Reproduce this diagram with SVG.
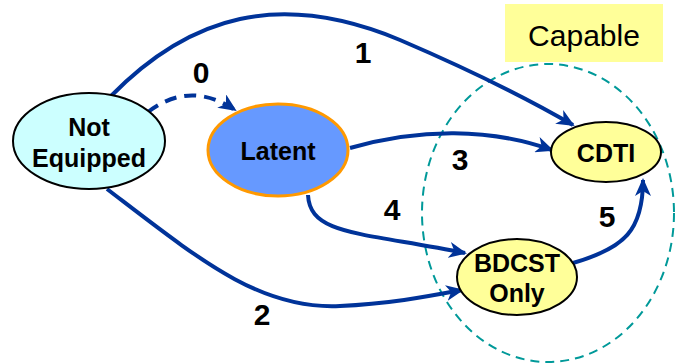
<svg xmlns="http://www.w3.org/2000/svg" width="676" height="364" viewBox="0 0 676 364">
<style>
.node-text{font-family:"Liberation Sans",Arial,sans-serif;font-weight:bold;font-size:25px;fill:#000;text-anchor:middle}
.num{font-family:"Liberation Sans",Arial,sans-serif;font-weight:bold;font-size:30px;fill:#000;text-anchor:middle}
.edge{fill:none;stroke:#003399;stroke-width:4;marker-end:url(#arr)}
</style>
<defs>
<marker id="arr" markerUnits="userSpaceOnUse" markerWidth="18" markerHeight="16" viewBox="0 0 18 16" refX="16" refY="8" orient="auto">
<path d="M0,0 L18,8 L0,16 L5,8 z" fill="#003399"/>
</marker>
</defs>
<g id="capable-label">
<rect x="505" y="4" width="158" height="58" fill="#FFFF99"/>
<text x="584" y="46" font-family="Liberation Sans,Arial,sans-serif" font-size="30" text-anchor="middle" fill="#000">Capable</text>
</g>
<g id="capable-region">
<ellipse cx="548" cy="213" rx="126" ry="149" fill="none" stroke="#009999" stroke-width="2" stroke-dasharray="9,6"/>
</g>
<g id="connectors">
<path class="edge" d="M110,97 C190,15 280,-10 400,40 C470,70 530,100 573,125"/>
<path class="edge" d="M148,112 Q190,80 235,110" stroke-dasharray="12,8"/>
<path class="edge" d="M350,148 C420,128 490,128 552,150"/>
<path class="edge" d="M308,195 C310,235 360,232 465,253"/>
<path class="edge" d="M107,189 C200,260 260,310 340,306 C390,304 430,296 462,290"/>
<path class="edge" d="M573,263 C625,248 643,230 643,180"/>
</g>
<g id="labels">
<text class="num" x="201" y="83">0</text>
<text class="num" x="363" y="63">1</text>
<text class="num" x="262" y="325">2</text>
<text class="num" x="460" y="170">3</text>
<text class="num" x="392" y="220">4</text>
<text class="num" x="607" y="227">5</text>
</g>
<g id="not-equipped">
<ellipse cx="89" cy="141" rx="76" ry="48" fill="#CCFFFF" stroke="#000" stroke-width="2"/>
<text class="node-text" x="89" y="136">Not</text>
<text class="node-text" x="89" y="167">Equipped</text>
</g>
<g id="latent">
<ellipse cx="278" cy="150" rx="70" ry="46" fill="#6699FF" stroke="#FF9900" stroke-width="3"/>
<text class="node-text" x="278" y="160">Latent</text>
</g>
<g id="cdti">
<ellipse cx="606" cy="152" rx="55" ry="30" fill="#FFFF99" stroke="#000" stroke-width="2"/>
<text class="node-text" x="606" y="162">CDTI</text>
</g>
<g id="bdcst-only">
<ellipse cx="517" cy="277" rx="60" ry="38" fill="#FFFF99" stroke="#000" stroke-width="2"/>
<text class="node-text" x="517" y="272">BDCST</text>
<text class="node-text" x="517" y="302">Only</text>
</g>
</svg>
